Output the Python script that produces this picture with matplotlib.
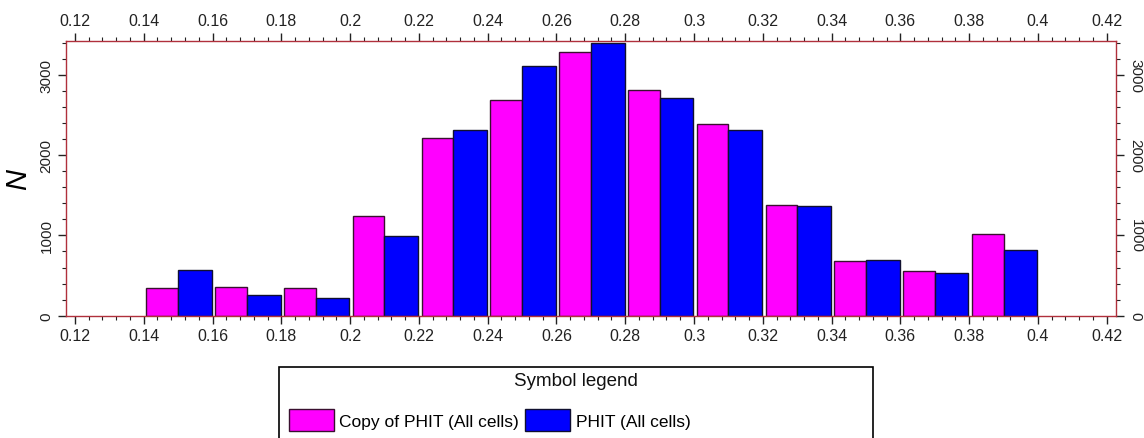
import matplotlib
matplotlib.use("Agg")
import matplotlib.pyplot as plt
from matplotlib.patches import Rectangle, Patch
from matplotlib.ticker import MultipleLocator, FuncFormatter
import numpy as np

plt.rcParams['font.family'] = ['Liberation Sans', 'DejaVu Sans']

bin_starts = [0.14, 0.16, 0.18, 0.20, 0.22, 0.24, 0.26, 0.28, 0.30, 0.32, 0.34, 0.36, 0.38]
copy_phit = [341, 354, 341, 1238, 2209, 2686, 3280, 2807, 2391, 1379, 677, 557, 1017]
phit = [569, 262, 217, 996, 2316, 3113, 3392, 2711, 2316, 1362, 694, 528, 818]
series_labels = ["Copy of PHIT (All cells)", "PHIT (All cells)"]
legend_title = "Symbol legend"
y_label = "N"

pink = "#FF00FF"
blue = "#0000FF"
spine_col = "#b0303c"

fig = plt.figure(figsize=(11.44, 4.39), dpi=100)
ax = fig.add_axes([66/1144, 1-316.7/439, (1116-66)/1144, (316.7-42)/439])

starts = np.array(bin_starts)
ax.bar(starts + 0.0008, copy_phit, width=0.0092, align='edge', color=pink,
       edgecolor="#3a1030", linewidth=1.0)
ax.bar(starts + 0.0100, phit, width=0.0098, align='edge', color=blue,
       edgecolor="#101030", linewidth=1.0)

ax.set_xlim(0.1174, 0.4227)
ax.set_ylim(0, 3421)

for s in ax.spines.values():
    s.set_color(spine_col)
    s.set_linewidth(1.0)

ax.xaxis.set_major_locator(MultipleLocator(0.02))
ax.xaxis.set_minor_locator(MultipleLocator(0.004))
ax.yaxis.set_major_locator(MultipleLocator(1000))
ax.yaxis.set_minor_locator(MultipleLocator(200))

def fmt(v, pos):
    return f"{v:.2f}".rstrip('0').rstrip('.')
ax.xaxis.set_major_formatter(FuncFormatter(fmt))

ax.tick_params(axis='x', which='both', top=True, labeltop=True, bottom=True,
               labelbottom=True, direction='out', colors='#222222',
               labelsize=11.5, labelcolor='#222222')
ax.tick_params(axis='x', which='major', length=6, width=1, pad=3)
ax.tick_params(axis='x', which='minor', length=3, width=0.8)
ax.tick_params(axis='y', which='both', left=True, right=True, labelleft=True,
               labelright=True, direction='out', colors='#222222',
               labelsize=11, labelcolor='#222222')
ax.tick_params(axis='y', which='major', length=6, width=1, pad=3)
ax.tick_params(axis='y', which='minor', length=3, width=0.8)
for t in ax.yaxis.get_major_ticks():
    t.label1.set_rotation(90)
    t.label1.set_va('center')
    t.label2.set_rotation(-90)
    t.label2.set_va('center')

ax.set_ylabel(y_label, fontsize=21, style='italic', labelpad=5)

# legend box
box = Rectangle((279/1144, -0.1), (873-279)/1144, 1-368/439 + 0.1,
                transform=fig.transFigure, facecolor='white', edgecolor='black',
                linewidth=1.2, clip_on=False)
fig.patches.append(box)
fig.text(576/1144, 1-382/439, legend_title, ha='center', va='center', fontsize=13.5,
         color='#111111')
handles = [Patch(facecolor=pink, edgecolor="#3a1030"),
           Patch(facecolor=blue, edgecolor="#101030")]
fig.legend(handles, series_labels, loc='center left', bbox_to_anchor=(289/1144, 1-421/439),
           ncol=2, frameon=False, fontsize=12.5, handlelength=2.6, handleheight=1.5,
           handletextpad=0.3, columnspacing=0.35, borderpad=0.0, borderaxespad=0.0)

fig.savefig("out.png", dpi=100)
